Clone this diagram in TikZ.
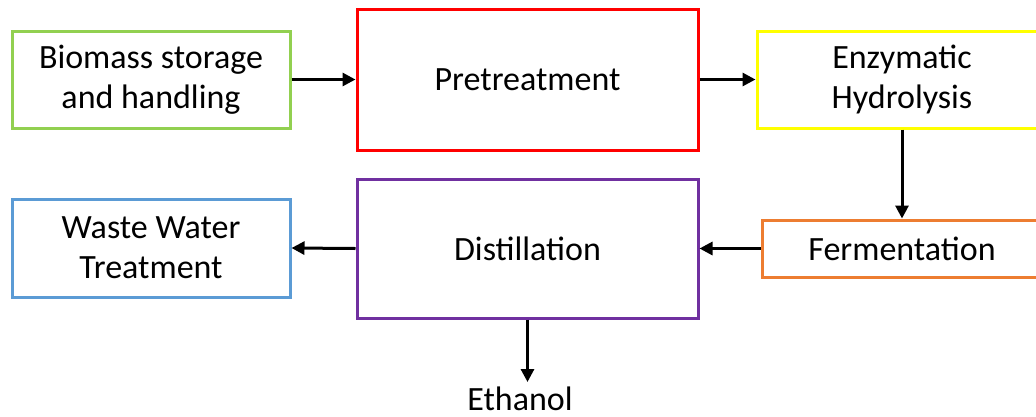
\documentclass[tikz,border=0pt]{standalone}
\usepackage{fontspec}
\setmainfont{Carlito}
\usetikzlibrary{arrows.meta}
\definecolor{cgreen}{RGB}{146,208,80}
\definecolor{cred}{RGB}{255,0,0}
\definecolor{cyellow}{RGB}{255,255,0}
\definecolor{corange}{RGB}{237,125,49}
\definecolor{cpurple}{RGB}{112,48,160}
\definecolor{cblue}{RGB}{91,155,213}
\tikzset{
  procbox/.style={draw, line width=3pt, rectangle, inner sep=0pt, align=center,
    font=\fontsize{34}{40}\selectfont},
  arr/.style={line width=3pt, -{Triangle[length=13pt,width=13pt]}},
}
\begin{document}
\begin{tikzpicture}[x=1pt,y=-1pt]
\useasboundingbox (0,0) rectangle (1036,416);
\clip (0,0) rectangle (1036,416);
\node[procbox, draw=cgreen, minimum width=278pt, minimum height=97pt] (bio) at (151,79.5) {Biomass storage\\and handling};
\node[procbox, draw=cred, minimum width=341pt, minimum height=141pt] (pre) at (527.5,79.5) {Pretreatment};
\node[procbox, draw=cyellow, minimum width=290pt, minimum height=97pt] (enz) at (902,79.5) {Enzymatic\\Hydrolysis};
\node[procbox, draw=cblue, minimum width=278pt, minimum height=98pt] (waste) at (151,248) {Waste Water\\Treatment};
\node[procbox, draw=cpurple, minimum width=341pt, minimum height=139pt] (dist) at (527.5,248.5) {Distillation};
\node[procbox, draw=corange, minimum width=280pt, minimum height=57pt] (ferm) at (902,248.5) {Fermentation};
\node[font=\fontsize{34}{40}\selectfont, anchor=base, inner sep=0pt, text depth=0pt] (eth) at (520,410) {Ethanol};
\coordinate (ethtop) at (527.5,382);
\draw[arr] (bio.east) -- (pre.west);
\draw[arr] (pre.east) -- (enz.west);
\draw[arr] (enz.south) -- (ferm.north);
\draw[arr] (ferm.west) -- (dist.east);
\draw[arr] (dist.west) -- (waste.east);
\draw[arr] (dist.south) -- (ethtop);
\end{tikzpicture}
\end{document}
